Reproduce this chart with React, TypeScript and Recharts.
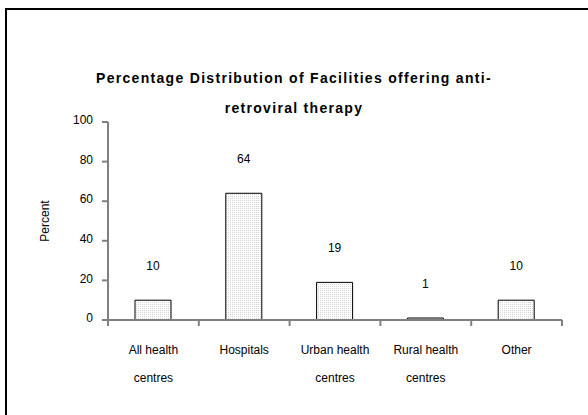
import { Bar, BarChart, LabelList, XAxis, YAxis } from 'recharts';

const categories = ['All health centres', 'Hospitals', 'Urban health centres', 'Rural health centres', 'Other'];
const categoryLines = [['All health', 'centres'], ['Hospitals'], ['Urban health', 'centres'], ['Rural health', 'centres'], ['Other']];
const percentValues = [10, 64, 19, 1, 10];
const yTicks = [0, 20, 40, 60, 80, 100];

const data = categories.map((name, i) => ({ name, lines: categoryLines[i], percent: percentValues[i] }));

const FONT = "'Liberation Sans', Arial, sans-serif";
const AXIS_GREY = '#808080';

function CategoryTick(props: any) {
  const { x, y, payload, index, visibleTicksCount } = props;
  const half = payload.offset ?? 0;
  const lines: string[] = data[index]?.lines ?? [String(payload.value)];
  const isLast = index === visibleTicksCount - 1;
  return (
    <g>
      <line x1={x - half} y1={y} x2={x - half} y2={y + 6} stroke={AXIS_GREY} strokeWidth={2} />
      {isLast && <line x1={x + half} y1={y} x2={x + half} y2={y + 6} stroke={AXIS_GREY} strokeWidth={2} />}
      <text x={x} y={y + 34} textAnchor="middle" fontSize={12} fontFamily={FONT} fill="#000">
        {lines.map((l, i) => (
          <tspan key={i} x={x} dy={i === 0 ? 0 : 28}>
            {l}
          </tspan>
        ))}
      </text>
    </g>
  );
}

export default function App() {
  return (
    <div style={{ position: 'absolute', left: 0, top: 0, width: 588, height: 415, background: '#fff', overflow: 'hidden' }}>
      <div
        style={{
          position: 'absolute',
          left: 5,
          top: 8,
          width: 581,
          height: 405,
          borderTop: '2px solid #000',
          borderLeft: '2px solid #000',
        }}
      />
      <div
        style={{
          position: 'absolute',
          left: 0,
          top: 63,
          width: 588,
          textAlign: 'center',
          fontFamily: FONT,
          fontWeight: 'bold',
          fontSize: 14,
          letterSpacing: 1.3,
          lineHeight: '30px',
          color: '#000',
        }}
      >
        Percentage Distribution of Facilities offering anti-
        <br />
        retroviral therapy
      </div>
      <div style={{ position: 'absolute', left: 0, top: 0 }}>
        <BarChart width={588} height={415} data={data} margin={{ top: 122, right: 26, bottom: 35, left: 48 }}>
          <defs>
            <pattern id="dots" width={2} height={2} patternUnits="userSpaceOnUse">
              <rect width={2} height={2} fill="#fff" />
              <rect width={1} height={1} fill="#d2d2d2" />
            </pattern>
          </defs>
          <XAxis
            dataKey="name"
            height={60}
            tickSize={0}
            tickMargin={0}
            tickLine={false}
            axisLine={{ stroke: AXIS_GREY, strokeWidth: 2 }}
            tick={<CategoryTick />}
            interval={0}
          />
          <YAxis
            width={60}
            domain={[0, 100]}
            ticks={yTicks}
            tickSize={6}
            tickMargin={9}
            tick={{ fill: '#000', fontSize: 12, fontFamily: FONT, dy: -2 }}
            tickLine={{ stroke: AXIS_GREY, strokeWidth: 2 }}
            axisLine={{ stroke: AXIS_GREY, strokeWidth: 2 }}
            label={{
              value: 'Percent',
              angle: -90,
              position: 'insideLeft',
              offset: -3,
              style: { textAnchor: 'middle', fontSize: 12, fontFamily: FONT, fill: '#000' },
            }}
          />
          <Bar dataKey="percent" barSize={36} fill="url(#dots)" stroke="#000" strokeWidth={1} isAnimationActive={false}>
            <LabelList dataKey="percent" position="top" offset={30} style={{ fontSize: 12, fontFamily: FONT, fill: '#000' }} />
          </Bar>
        </BarChart>
      </div>
    </div>
  );
}
